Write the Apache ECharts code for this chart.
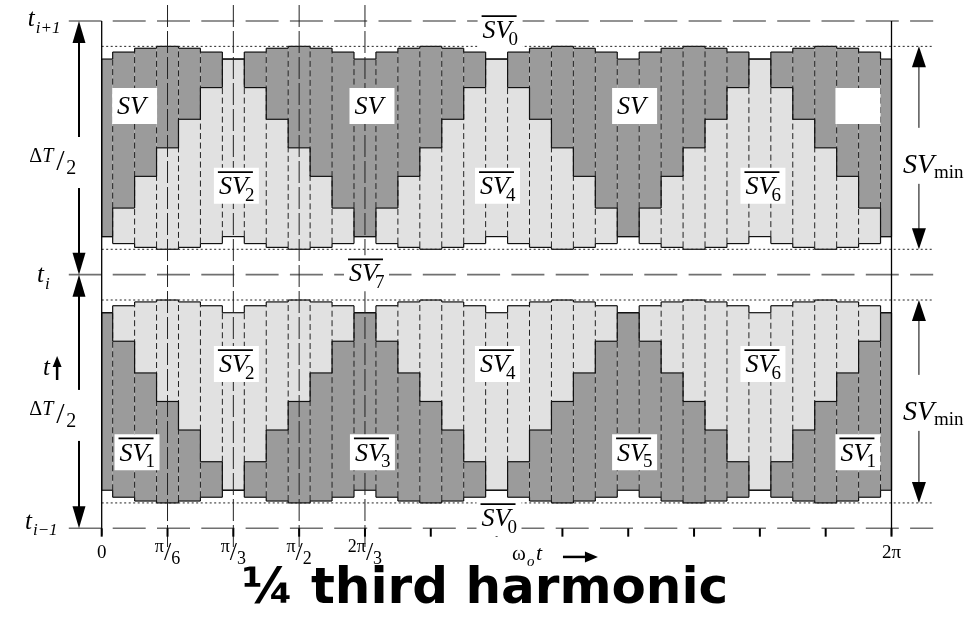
<!DOCTYPE html>
<html>
<head>
<meta charset="utf-8">
<script src="https://cdn.jsdelivr.net/npm/echarts@6.0.0/dist/echarts.min.js"></script>
<style>
html,body{margin:0;padding:0;background:#fff;}
#chart{width:970px;height:618px;}
</style>
</head>
<body>
<div id="chart"></div>
<script>
// ---------------- data ----------------
// sample angles (omega_o t, degrees; 360 = 2π)
const columnAngles = [0,10,20,30,40,50,60,70,80,90,100,110,120,130,140,150,160,170,180,190,200,210,220,230,240,250,260,270,280,290,300,310,320,330,340,350,360];
// time of the even active vector (light: SV2, SV4, SV6), % of ΔT/2
const evenVectorTime = [0,14,28,40,50.5,61.5,70,61.5,50.5,40,28,14,0,14,28,40,50.5,61.5,70,61.5,50.5,40,28,14,0,14,28,40,50.5,61.5,70,61.5,50.5,40,28,14,0];
// time of the odd active vector (dark: SV1, SV3, SV5), % of ΔT/2
const oddVectorTime = [70,61.5,50.5,40,28,14,0,14,28,40,50.5,61.5,70,61.5,50.5,40,28,14,0,14,28,40,50.5,61.5,70,61.5,50.5,40,28,14,0,14,28,40,50.5,61.5,70];
const tickAngles = [0,30,60,90,120,150,180,210,240,270,300,330,360];
const tickLabels = ['0','π/6','π/3','π/2','2π/3','','','','','','','','2π'];
const guideAngles = [30,60,90,120];
const timeLevels = [0,100,200];          // t(i-1), t(i), t(i+1)
const svMinLevels = [10,90,110,190];     // SVmin limits
const halfPeriod = 100;                  // ΔT/2

// ---------------- styles ----------------
const DARK = '#9b9b9b', LIGHT = '#e1e1e1', INK = '#111', GUIDE = '#707070';
const SERIF = '"Liberation Serif","Times New Roman",serif';
const halfW = (columnAngles[1] - columnAngles[0]) / 2;
const lastIdx = columnAngles.length - 1;

function colGeom(k) {
  const a = columnAngles[k];
  const L = evenVectorTime[k], D = oddVectorTime[k];
  const z = (halfPeriod - L - D) / 2;
  return {
    x0: Math.max(columnAngles[0], a - halfW), x1: Math.min(columnAngles[lastIdx], a + halfW),
    up: {b: halfPeriod + z, m: halfPeriod + z + L, t: halfPeriod + z + L + D},
    lo: {b: halfPeriod - z, m: halfPeriod - z - L, t: halfPeriod - z - L - D}
  };
}
function mkLine(api, a1, u1, a2, u2, style) {
  const p = api.coord([a1, u1]), q = api.coord([a2, u2]);
  return {type: 'line', shape: {x1: p[0], y1: p[1], x2: q[0], y2: q[1]},
          style: Object.assign({stroke: INK, lineWidth: 1}, style || {})};
}
function pxLine(x1, y1, x2, y2, style) {
  return {type: 'line', shape: {x1, y1, x2, y2}, style: Object.assign({stroke: '#000', lineWidth: 1}, style || {})};
}
function mkRect(api, a1, u1, a2, u2, fill) {
  const p = api.coord([a1, u1]), q = api.coord([a2, u2]);
  return {type: 'rect', shape: {x: Math.min(p[0], q[0]), y: Math.min(p[1], q[1]),
          width: Math.abs(q[0] - p[0]), height: Math.abs(q[1] - p[1])}, style: {fill: fill}};
}
function txt(x, y, text, opt) {
  return {type: 'text', x: x, y: y, style: Object.assign({text: text, fill: '#000', fontFamily: SERIF,
          fontSize: 24, align: 'left', verticalAlign: 'middle'}, opt || {})};
}
function tri(tx, ty, dir, len, hw) { // dir=-1 points up, +1 points down
  return {type: 'polygon', shape: {points: [[tx, ty], [tx - hw, ty - dir * len], [tx + hw, ty - dir * len]]}, style: {fill: '#000'}};
}

function renderFill(params, api) {
  const g = colGeom(params.dataIndex);
  const ch = [];
  if (g.up.m > g.up.b) ch.push(mkRect(api, g.x0, g.up.b, g.x1, g.up.m, LIGHT));
  if (g.up.t > g.up.m) ch.push(mkRect(api, g.x0, g.up.m, g.x1, g.up.t, DARK));
  if (g.lo.b > g.lo.m) ch.push(mkRect(api, g.x0, g.lo.m, g.x1, g.lo.b, LIGHT));
  if (g.lo.m > g.lo.t) ch.push(mkRect(api, g.x0, g.lo.t, g.x1, g.lo.m, DARK));
  return {type: 'group', children: ch};
}

function renderOutline(params, api) {
  const k = params.dataIndex;
  const g = colGeom(k);
  const ch = [];
  const solid = {lineWidth: 1.2, stroke: INK};
  const dash = {lineWidth: 1, stroke: '#222', lineDash: [6, 3.5]};
  if (k < lastIdx) {
    const n = colGeom(k + 1);
    [[g.up, n.up], [g.lo, n.lo]].forEach(function (pr) {
      const h = pr[0], hn = pr[1];
      const lo = Math.max(Math.min(h.b, h.t), Math.min(hn.b, hn.t));
      const hi = Math.min(Math.max(h.b, h.t), Math.max(hn.b, hn.t));
      ch.push(mkLine(api, g.x1, lo, g.x1, hi, dash));
      ['b', 'm', 't'].forEach(function (key) {
        if (h[key] !== hn[key]) ch.push(mkLine(api, g.x1, h[key], g.x1, hn[key], solid));
      });
    });
  }
  [g.up, g.lo].forEach(function (h) {
    ['b', 'm', 't'].forEach(function (key) { ch.push(mkLine(api, g.x0, h[key], g.x1, h[key], solid)); });
    if (k === 0) ch.push(mkLine(api, g.x0, h.b, g.x0, h.t, solid));
    if (k === lastIdx) ch.push(mkLine(api, g.x1, h.b, g.x1, h.t, solid));
  });
  return {type: 'group', children: ch};
}

function renderGuides(params, api) {
  const ch = [];
  timeLevels.forEach(function (u) {
    ch.push(mkLine(api, -15, u, 0, u, {stroke: GUIDE, lineWidth: 1.6}));
    ch.push(mkLine(api, 0, u, 379, u, {stroke: GUIDE, lineWidth: 1.6, lineDash: [33, 11.3], lineDashOffset: 33.3}));
  });
  svMinLevels.forEach(function (u) {
    ch.push(mkLine(api, 0, u, 379, u, {stroke: '#222', lineWidth: 1, lineDash: [2, 2.5]}));
  });
  guideAngles.forEach(function (a) {
    ch.push(mkLine(api, a, 206.3, a, -7.4, {stroke: '#222', lineWidth: 1, lineDash: [22, 4]}));
  });
  [columnAngles[0], columnAngles[lastIdx]].forEach(function (a) {
    ch.push(mkLine(api, a, 200, a, -2.7, {stroke: '#000', lineWidth: 1.3}));
  });
  tickAngles.forEach(function (a) {
    ch.push(mkLine(api, a, 0, a, -3.3, {stroke: '#000', lineWidth: 2}));
  });
  return {type: 'group', children: ch};
}

function svBox(api, a, u, sub, bar, showText) {
  const c = api.coord([a, u]);
  const cx = c[0], cy = c[1];
  const els = [{type: 'rect', shape: {x: cx - 22.5, y: cy - 18, width: 45, height: 36}, style: {fill: '#fff'}}];
  if (showText) {
    els.push(txt(cx - 17.5, cy + 1.5, 'SV', {fontStyle: 'italic', fontSize: 26}));
    if (sub) els.push(txt(cx + 8.5, cy + 10, sub, {fontSize: 19}));
    if (bar) els.push(pxLine(cx - 18.5, cy - 13.8, cx + 16.5, cy - 13.8, {lineWidth: 1.8}));
  }
  return els;
}

function renderAnnot(params, api) {
  let ch = [];
  // inner labels
  [[15.0, 166.5, '', false, true], [123.2, 166.5, '', false, true], [242.9, 166.5, '', false, true], [344.7, 166.5, '', false, false],
   [61.4, 135, '2', true, true], [180.4, 135, '4', true, true], [301.4, 135, '6', true, true],
   [61.4, 64.8, '2', true, true], [180.4, 64.8, '4', true, true], [301.4, 64.8, '6', true, true],
   [16.1, 30, '1', true, true], [123.4, 30, '3', true, true], [242.9, 30, '5', true, true], [344.7, 30, '1', true, true],
   [181.6, 196.5, '0', true, true], [120.7, 100.6, '7', true, true], [181.1, 4.1, '0', true, true]
  ].forEach(function (d) { ch = ch.concat(svBox(api, d[0], d[1], d[2], d[3], d[4])); });

  // left ΔT/2 arrows
  const ax = api.coord([-10.35, 0])[0];
  [[200, 100, 144.4], [100, 0, 44.7]].forEach(function (d) {
    const yt = api.coord([0, d[0]])[1], yb = api.coord([0, d[1]])[1], cy = api.coord([0, d[2]])[1];
    ch.push(pxLine(ax, yt + 10, ax, cy - 25, {lineWidth: 2}));
    ch.push(pxLine(ax, cy + 26, ax, yb - 10, {lineWidth: 2}));
    ch.push(tri(ax, yt, -1, 22, 6.5));
    ch.push(tri(ax, yb, 1, 22, 6.5));
    const cx = api.coord([-18.9, 0])[0];
    ch.push(txt(cx - 31, cy - 5, 'Δ', {fontSize: 20}));
    ch.push(txt(cx - 18, cy - 5, 'T', {fontSize: 20, fontStyle: 'italic'}));
    ch.push(txt(cx - 4, cy, '/', {fontSize: 30}));
    ch.push(txt(cx + 6, cy + 7, '2', {fontSize: 20}));
  });
  // t labels
  [[-33.7, 200.7, 'i+1'], [-29.5, 99.5, 'i'], [-35.0, 2.5, 'i−1']].forEach(function (d) {
    const p = api.coord([d[0], d[1]]);
    ch.push(txt(p[0], p[1], 't', {fontStyle: 'italic', fontSize: 25}));
    ch.push(txt(p[0] + 8, p[1] + 9, d[2], {fontStyle: 'italic', fontSize: 17}));
  });
  // t ↑
  const tp = api.coord([-26.7, 63.2]);
  ch.push(txt(tp[0], tp[1], 't', {fontStyle: 'italic', fontSize: 25}));
  ch.push(pxLine(tp[0] + 14, tp[1] + 12, tp[0] + 14, tp[1] - 3, {lineWidth: 2.5}));
  ch.push(tri(tp[0] + 14, tp[1] - 12, -1, 11, 4.5));

  // right SVmin arrows
  const rx = api.coord([372.5, 0])[0];
  [[190, 110, 142.9], [90, 10, 45.5]].forEach(function (d) {
    const yt = api.coord([0, d[0]])[1], yb = api.coord([0, d[1]])[1], cy = api.coord([0, d[2]])[1];
    ch.push(pxLine(rx, yt + 10, rx, cy - 38, {lineWidth: 1}));
    ch.push(pxLine(rx, cy + 18, rx, yb - 10, {lineWidth: 1}));
    ch.push(tri(rx, yt, -1, 21, 7));
    ch.push(tri(rx, yb, 1, 21, 7));
    const lx = api.coord([365.2, 0])[0];
    ch.push(txt(lx, cy, 'SV', {fontStyle: 'italic', fontSize: 28}));
    ch.push(txt(lx + 31, cy + 7, 'min', {fontSize: 19}));
  });

  // ω_o t →
  const wp = api.coord([187, -10.5]);
  ch.push(txt(wp[0], wp[1], 'ω', {fontSize: 21}));
  ch.push(txt(wp[0] + 15, wp[1] + 7, 'o', {fontSize: 15, fontStyle: 'italic'}));
  ch.push(txt(wp[0] + 24, wp[1] - 1, 't', {fontSize: 22, fontStyle: 'italic'}));
  ch.push(pxLine(wp[0] + 51, wp[1] + 2, wp[0] + 76, wp[1] + 2, {lineWidth: 2.5}));
  ch.push({type: 'polygon', shape: {points: [[wp[0] + 86, wp[1] + 2], [wp[0] + 73, wp[1] - 3.5], [wp[0] + 73, wp[1] + 7.5]]}, style: {fill: '#000'}});
  return {type: 'group', children: ch};
}

// ---------------- chart ----------------
const chart = echarts.init(document.getElementById('chart'), null, {renderer: 'canvas'});
chart.setOption({
  animation: false,
  backgroundColor: '#fff',
  title: {
    text: '¼ third harmonic', left: 'center', top: 560,
    textStyle: {fontFamily: '"DejaVu Sans", Verdana, sans-serif', fontWeight: 'bold', fontSize: 50, color: '#000'}
  },
  grid: {left: 101.7, right: 78.5, top: 21, bottom: 89.7},
  xAxis: {
    type: 'value', min: 0, max: 360, interval: 30,
    axisLine: {show: false}, axisTick: {show: false}, splitLine: {show: false},
    axisLabel: {
      show: true, margin: 10, showMinLabel: true, showMaxLabel: true,
      formatter: function (v) {
        const i = tickAngles.indexOf(v);
        const s = i >= 0 ? tickLabels[i] : '';
        if (!s) return '';
        if (s.indexOf('/') >= 0) {
          const parts = s.split('/');
          return '{n|' + parts[0] + '}{sl|/}{d|' + parts[1] + '}';
        }
        return '{p|' + s + '}';
      },
      rich: {
        n: {fontFamily: SERIF, fontSize: 18, lineHeight: 18, verticalAlign: 'top', color: '#000'},
        sl: {fontFamily: SERIF, fontSize: 26, lineHeight: 30, color: '#000'},
        d: {fontFamily: SERIF, fontSize: 18, lineHeight: 18, verticalAlign: 'bottom', color: '#000'},
        p: {fontFamily: SERIF, fontSize: 19, lineHeight: 30, color: '#000'}
      }
    }
  },
  yAxis: {type: 'value', min: 0, max: 200, show: false},
  series: [
    {type: 'custom', name: 'fill', coordinateSystem: 'cartesian2d', clip: false, z: 2, silent: true,
     data: columnAngles.map(function (a, i) { return [a, i]; }), renderItem: renderFill},
    {type: 'custom', name: 'outline', coordinateSystem: 'cartesian2d', clip: false, z: 3, silent: true,
     data: columnAngles.map(function (a, i) { return [a, i]; }), renderItem: renderOutline},
    {type: 'custom', name: 'guides', coordinateSystem: 'cartesian2d', clip: false, z: 4, silent: true,
     data: [[0, 0]], renderItem: renderGuides},
    {type: 'custom', name: 'annotations', coordinateSystem: 'cartesian2d', clip: false, z: 6, silent: true,
     data: [[0, 0]], renderItem: renderAnnot}
  ]
});
</script>
</body>
</html>
